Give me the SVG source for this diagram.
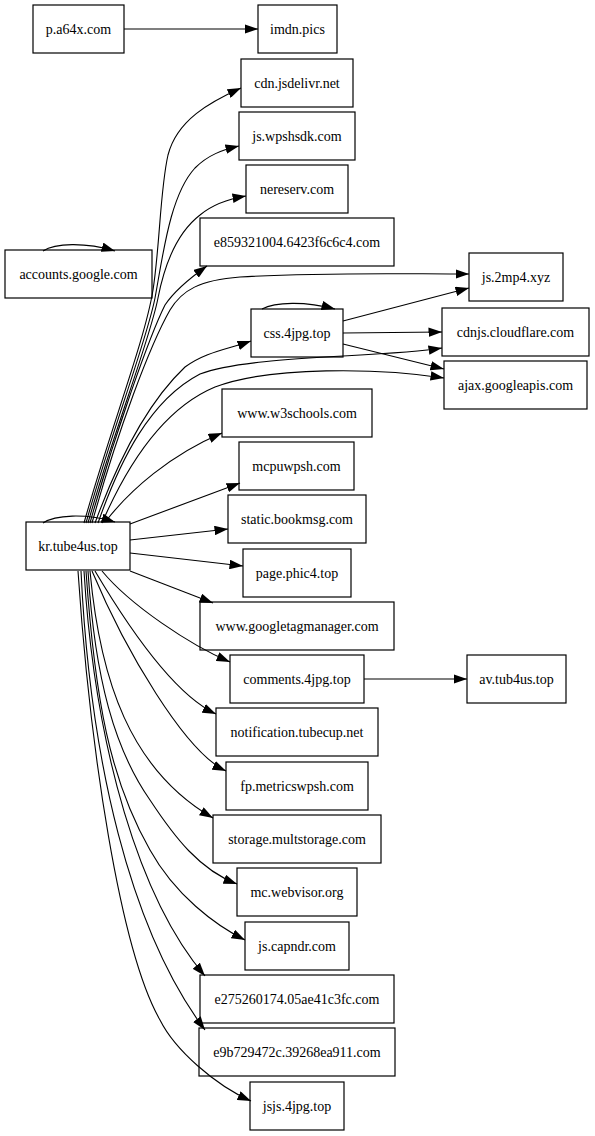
<svg xmlns="http://www.w3.org/2000/svg" width="595" height="1136" viewBox="0 0 595 1136">
<style>
.n rect{fill:#fff;stroke:#000;stroke-width:1.2}
.n text{font-family:"Liberation Serif","Times New Roman",serif;font-size:14px;fill:#000;text-anchor:middle}
.e path{fill:none;stroke:#000;stroke-width:1.1;marker-end:url(#ah)}
</style>
<defs>
<marker id="ah" viewBox="0 0 13.5 9.5" refX="13.5" refY="4.75" markerWidth="13.5" markerHeight="9.5" markerUnits="userSpaceOnUse" orient="auto"><path d="M0,0 L13.5,4.75 L0,9.5 z" fill="#000"/></marker>
</defs>
<rect x="0" y="0" width="595" height="1136" fill="#fff"/>
<g id="nodes">
<g id="n-p.a64x.com" class="n"><rect x="33" y="5" width="91" height="48"/><text x="78.5" y="34">p.a64x.com</text></g>
<g id="n-imdn.pics" class="n"><rect x="258" y="5" width="79" height="48"/><text x="297.5" y="34">imdn.pics</text></g>
<g id="n-cdn.jsdelivr.net" class="n"><rect x="241" y="59" width="112" height="48"/><text x="297" y="88">cdn.jsdelivr.net</text></g>
<g id="n-js.wpshsdk.com" class="n"><rect x="239" y="112" width="116" height="48"/><text x="297" y="141">js.wpshsdk.com</text></g>
<g id="n-nereserv.com" class="n"><rect x="246" y="165" width="102" height="48"/><text x="297" y="194">nereserv.com</text></g>
<g id="n-e859321004" class="n"><rect x="200" y="218" width="194" height="48"/><text x="297" y="247">e859321004.6423f6c6c4.com</text></g>
<g id="n-accounts.google.com" class="n"><rect x="5" y="250" width="147" height="48"/><text x="78.5" y="279">accounts.google.com</text></g>
<g id="n-js.2mp4.xyz" class="n"><rect x="469" y="253" width="94" height="48"/><text x="516" y="282">js.2mp4.xyz</text></g>
<g id="n-css.4jpg.top" class="n"><rect x="251" y="309" width="92" height="48"/><text x="297" y="338">css.4jpg.top</text></g>
<g id="n-cdnjs.cloudflare.com" class="n"><rect x="442" y="308" width="147" height="48"/><text x="515.5" y="337">cdnjs.cloudflare.com</text></g>
<g id="n-ajax.googleapis.com" class="n"><rect x="444" y="361" width="143" height="48"/><text x="515.5" y="390">ajax.googleapis.com</text></g>
<g id="n-www.w3schools.com" class="n"><rect x="222" y="389" width="150" height="48"/><text x="297" y="418">www.w3schools.com</text></g>
<g id="n-mcpuwpsh.com" class="n"><rect x="239" y="442" width="115" height="48"/><text x="296.5" y="471">mcpuwpsh.com</text></g>
<g id="n-static.bookmsg.com" class="n"><rect x="228" y="495" width="138" height="48"/><text x="297" y="524">static.bookmsg.com</text></g>
<g id="n-kr.tube4us.top" class="n"><rect x="26" y="522" width="104" height="48"/><text x="78" y="551">kr.tube4us.top</text></g>
<g id="n-page.phic4.top" class="n"><rect x="243" y="549" width="108" height="48"/><text x="297" y="578">page.phic4.top</text></g>
<g id="n-www.googletagmanager.com" class="n"><rect x="200" y="602" width="194" height="48"/><text x="297" y="631">www.googletagmanager.com</text></g>
<g id="n-comments.4jpg.top" class="n"><rect x="230" y="655" width="134" height="48"/><text x="297" y="684">comments.4jpg.top</text></g>
<g id="n-av.tub4us.top" class="n"><rect x="467" y="655" width="99" height="48"/><text x="516.5" y="684">av.tub4us.top</text></g>
<g id="n-notification.tubecup.net" class="n"><rect x="216" y="708" width="162" height="48"/><text x="297" y="737">notification.tubecup.net</text></g>
<g id="n-fp.metricswpsh.com" class="n"><rect x="226" y="762" width="142" height="48"/><text x="297" y="791">fp.metricswpsh.com</text></g>
<g id="n-storage.multstorage.com" class="n"><rect x="213" y="815" width="168" height="48"/><text x="297" y="844">storage.multstorage.com</text></g>
<g id="n-mc.webvisor.org" class="n"><rect x="237" y="868" width="120" height="48"/><text x="297" y="897">mc.webvisor.org</text></g>
<g id="n-js.capndr.com" class="n"><rect x="245" y="922" width="104" height="48"/><text x="297" y="951">js.capndr.com</text></g>
<g id="n-e275260174" class="n"><rect x="200" y="975" width="194" height="48"/><text x="297" y="1004">e275260174.05ae41c3fc.com</text></g>
<g id="n-e9b729472c" class="n"><rect x="199" y="1028" width="196" height="48"/><text x="297" y="1057">e9b729472c.39268ea911.com</text></g>
<g id="n-jsjs.4jpg.top" class="n"><rect x="250" y="1082" width="94" height="48"/><text x="297" y="1111">jsjs.4jpg.top</text></g>
</g>
<g id="edges" class="e">
<path d="M124,29 L258,29"/>
<path d="M43,251 C55,243 85,242 115,251"/>
<path d="M262,309 C275,302 305,301 335,309"/>
<path d="M43,523 C55,515 85,513 115,522"/>
<path d="M343,321 L469,288"/>
<path d="M343,333 L442,332"/>
<path d="M343,344 L444,369"/>
<path d="M364,679 L467,679"/>
<path d="M84,523 C110,430 145,340 153,290 C160,245 160,190 168,155 C177,120 210,102 241,88"/>
<path d="M86,523 C112,430 147,340 155,298 C163,255 170,195 195,168 C208,155 222,150 239,146"/>
<path d="M88,523 C114,430 150,340 158,298 C165,262 178,232 200,215 C212,205 228,199 246,196"/>
<path d="M90,523 C116,430 150,335 165,305 C175,290 190,278 207,266"/>
<path d="M92,523 C118,430 150,345 170,310 C182,290 200,280 240,277 C320,272 400,274 469,274"/>
<path d="M95,523 C120,455 150,400 185,367 C205,352 228,349 251,341"/>
<path d="M98,523 C120,460 150,400 200,374 C250,355 380,358 442,348"/>
<path d="M102,523 C125,470 160,410 215,387 C270,366 380,368 444,378"/>
<path d="M106,521 C130,490 170,455 222,433"/>
<path d="M130,524 L240,483"/>
<path d="M130,540 L228,529"/>
<path d="M130,553 L243,566"/>
<path d="M130,571 L213,603"/>
<path d="M102,571 C130,605 190,645 230,662"/>
<path d="M95,571 C130,630 175,695 216,714"/>
<path d="M92,571 C125,650 185,752 226,771"/>
<path d="M90,571 C100,680 130,770 213,818"/>
<path d="M88,571 C95,680 115,750 150,800 C175,838 200,870 237,884"/>
<path d="M86,571 C95,700 110,780 150,850 C175,895 215,925 245,940"/>
<path d="M84,571 C95,750 140,900 205,976"/>
<path d="M81,571 C90,760 130,930 205,1030"/>
<path d="M78,571 C90,750 120,950 160,1020 C175,1050 215,1085 251,1101"/>
</g>
</svg>
